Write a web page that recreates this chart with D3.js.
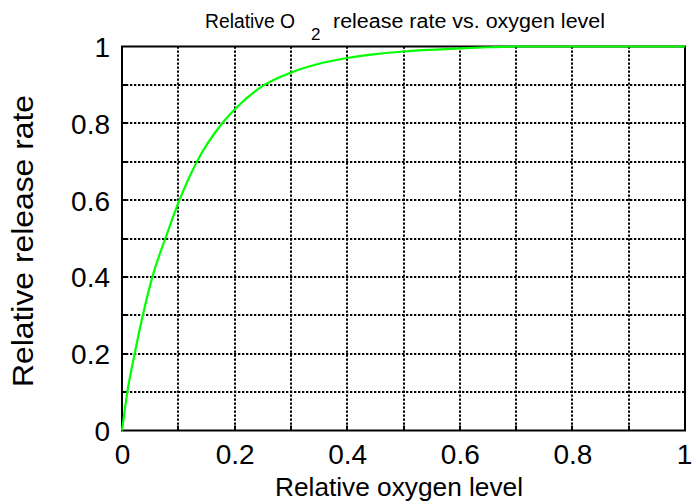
<!DOCTYPE html>
<html><head><meta charset="utf-8">
<script src="https://cdn.jsdelivr.net/npm/d3@7"></script>
<style>body{margin:0;background:#fff}svg{display:block}text{font-family:"Liberation Sans",Arial,sans-serif;fill:#000}</style>
</head><body>
<script>
const oxygenLevel = [0, 0.0095, 0.0225, 0.037, 0.054, 0.077, 0.102, 0.133, 0.178, 0.2, 0.253, 0.3, 0.35, 0.4, 0.45, 0.5, 0.6, 0.65, 0.7, 0.8, 0.9, 1.0];
const releaseRate = [0, 0.1, 0.2, 0.3, 0.4, 0.5, 0.6, 0.7, 0.8, 0.836, 0.9, 0.932, 0.955, 0.970, 0.980, 0.987, 0.995, 0.998, 1, 1, 1, 1];
const xTickLabels = ["0", "0.2", "0.4", "0.6", "0.8", "1"];
const yTickLabels = ["0", "0.2", "0.4", "0.6", "0.8", "1"];
const gridSteps = [0.1, 0.2, 0.3, 0.4, 0.5, 0.6, 0.7, 0.8, 0.9];
const titleText = ["Relative O", "2", "release rate vs. oxygen level"];
const xLabel = "Relative oxygen level";
const yLabel = "Relative release rate";

const W = 692, H = 502;
const m = {left: 122, right: 685, top: 46.5, bottom: 430.5};
const svg = d3.select("body").append("svg").attr("width", W).attr("height", H);
const x = d3.scaleLinear().domain([0, 1]).range([m.left, m.right]);
const y = d3.scaleLinear().domain([0, 1]).range([m.bottom, m.top]);
const rx = d => Math.round(x(d));
const ry = d => Math.round(y(d));

// grid
const g = svg.append("g");
g.selectAll(".vg").data(gridSteps).join("line")
  .attr("x1", rx).attr("x2", rx).attr("y1", m.top).attr("y2", m.bottom)
  .attr("stroke", "#000").attr("stroke-width", 2).attr("stroke-dasharray", "2.3,1.7");
g.selectAll(".hg").data(gridSteps).join("line")
  .attr("y1", ry).attr("y2", ry).attr("x1", m.left).attr("x2", m.right)
  .attr("stroke", "#000").attr("stroke-width", 2).attr("stroke-dasharray", "2.3,1.7");

// axes
const xTicks = xTickLabels.map(Number);
const yTicks = yTickLabels.map(Number);
const xAxis = d3.axisBottom(x).tickValues(xTicks).tickFormat((d, i) => xTickLabels[i]).tickSize(0).tickPadding(14);
const yAxis = d3.axisLeft(y).tickValues(yTicks).tickFormat((d, i) => yTickLabels[i]).tickSize(0).tickPadding(12);
const ax = svg.append("g").attr("transform", `translate(0,${m.bottom})`).call(xAxis);
ax.select(".domain").remove();
ax.selectAll("text").attr("font-size", 28).attr("font-family", "Liberation Sans, Arial, sans-serif").attr("fill", "#000").attr("dy", "0.71em")
  .attr("dx", (d, i) => i === xTicks.length - 1 ? -1 : 0);
const ay = svg.append("g").attr("transform", `translate(${m.left},0)`).call(yAxis);
ay.select(".domain").remove();
ay.selectAll("text").attr("font-size", 28).attr("font-family", "Liberation Sans, Arial, sans-serif").attr("fill", "#000").attr("dy", "0.36em");

// inward ticks
svg.append("g").selectAll("line").data(gridSteps).join("line")
  .attr("x1", rx).attr("x2", rx).attr("y1", m.bottom).attr("y2", m.bottom - 5)
  .attr("stroke", "#000").attr("stroke-width", 2);
svg.append("g").selectAll("line").data(gridSteps).join("line")
  .attr("y1", ry).attr("y2", ry).attr("x1", m.left).attr("x2", m.left + 5)
  .attr("stroke", "#000").attr("stroke-width", 2);

// box
svg.append("rect").attr("x", m.left).attr("y", m.top).attr("width", m.right - m.left).attr("height", m.bottom - m.top)
  .attr("fill", "none").attr("stroke", "#000").attr("stroke-width", 2);

// line
const pts = oxygenLevel.map((v, i) => [v, releaseRate[i]]);
svg.append("path").datum(pts)
  .attr("d", d3.line().curve(d3.curveMonotoneX).x(d => x(d[0])).y(d => y(d[1])))
  .attr("fill", "none").attr("stroke", "#00ff00").attr("stroke-width", 2.2).attr("stroke-linejoin", "round");

// title
svg.append("text").attr("x", 205).attr("y", 28).attr("font-size", 20)
  .attr("textLength", 90).attr("lengthAdjust", "spacingAndGlyphs").text(titleText[0]);
svg.append("text").attr("x", 311).attr("y", 40).attr("font-size", 17).text(titleText[1]);
svg.append("text").attr("x", 333).attr("y", 28).attr("font-size", 20)
  .attr("textLength", 272).attr("lengthAdjust", "spacingAndGlyphs").text(titleText[2]);

// axis labels
svg.append("text").attr("x", 399).attr("y", 496).attr("text-anchor", "middle")
  .attr("font-size", 26).attr("textLength", 248).attr("lengthAdjust", "spacingAndGlyphs").text(xLabel);
svg.append("text").attr("transform", "translate(33,241) rotate(-90)").attr("text-anchor", "middle")
  .attr("font-size", 30).attr("textLength", 292).attr("lengthAdjust", "spacingAndGlyphs").text(yLabel);
</script>
</body></html>
